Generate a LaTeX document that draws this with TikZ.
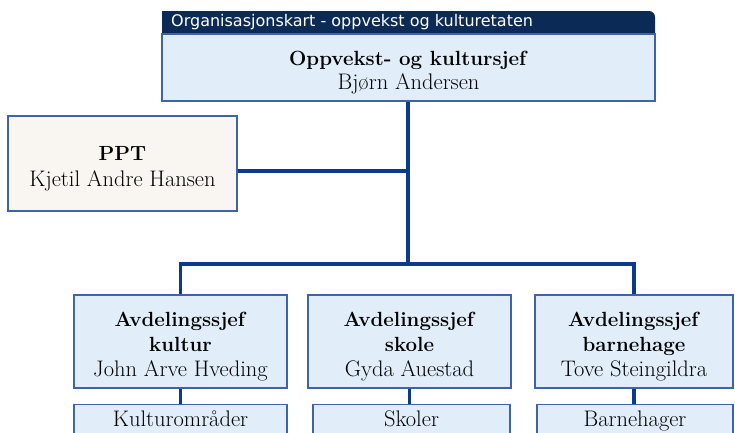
\documentclass[tikz,border=0pt]{standalone}
\usepackage{fontspec}
\usepackage{tikz}
\usetikzlibrary{positioning}
\newfontfamily\headfont{DejaVu Sans}
\definecolor{orgnavy}{HTML}{0B2A55}
\definecolor{orgedge}{HTML}{3F63A8}
\definecolor{orgline}{HTML}{0A3A8C}
\definecolor{orglight}{HTML}{E1EEF9}
\definecolor{orgbeige}{HTML}{F9F6F1}
\newcommand{\who}[1]{{\fontsize{22.5}{25}\selectfont #1}}
\newcommand{\pad}{\rule{0pt}{24pt}}

\begin{document}
\begin{tikzpicture}[
    x=1pt, y=-1pt,
    boss/.style={rectangle, draw=orgedge, fill=orglight, line width=1.2pt, minimum width=493pt, minimum height=67pt, align=center, font=\fontsize{20.5}{24}\selectfont},
    staff/.style={rectangle, draw=orgedge, fill=orgbeige, line width=1.2pt, minimum width=229pt, minimum height=95pt, align=center, font=\fontsize{20.5}{26}\selectfont},
    unit/.style={rectangle, draw=orgedge, fill=orglight, line width=1.2pt, minimum height=93pt, inner sep=0pt, align=center, font=\fontsize{20.5}{25}\selectfont},
    field/.style={rectangle, draw=orgedge, fill=orglight, line width=1.2pt, anchor=north, inner xsep=0pt, inner ysep=7pt, text height=15pt, text depth=28pt},
    link/.style={draw=orgline, line width=3.5pt}
]
\path[use as bounding box, clip] (0,0) rectangle (735,432);

% Header
\fill[orgnavy] (162,34) -- (162,11) [rounded corners=6pt] -- (655,11) [sharp corners] -- (655,34) -- cycle;
\node[anchor=west, inner sep=0pt, text=white, font=\headfont\fontsize{16}{18}\selectfont] (header) at (171,22.5) {Organisasjonskart - oppvekst og kulturetaten};

% Nodes
\node[boss] (sjef) at (408.5,67.5) {\pad\textbf{Oppvekst- og kultursjef}\\\who{Bjørn Andersen}};
\node[staff] (ppt) at (122.5,163.5) {\pad\textbf{PPT}\\\who{Kjetil Andre Hansen}};

\node[unit, minimum width=213pt] (kultur) at (180.5,341.5) {\pad\textbf{Avdelingssjef}\\\textbf{kultur}\\\who{John Arve Hveding}};
\node[unit, minimum width=203pt] (skole) at (409.5,341.5) {\pad\textbf{Avdelingssjef}\\\textbf{skole}\\\who{Gyda Auestad}};
\node[unit, minimum width=198pt] (barnehage) at (634,341.5) {\pad\textbf{Avdelingssjef}\\\textbf{barnehage}\\\who{Tove Steingildra}};

\node[field, minimum width=213pt, below=15pt of kultur] (omraader) {\who{Kulturområder}};
\node[field, minimum width=197pt, below=15pt of skole, xshift=2pt] (skoler) {\who{Skoler}};
\node[field, minimum width=196pt, below=15pt of barnehage, xshift=1pt] (barnehager) {\who{Barnehager}};

\coordinate (bar) at (408,264);

% Arrows
\draw[link] (sjef.south -| bar) -- (bar);
\draw[link] ([yshift=-7.5pt]ppt.east) -- ([yshift=-7.5pt]ppt.east -| bar);
\draw[link] (kultur.north) |- (bar) -| (barnehage.north);
\draw[link] (kultur.south) -- (omraader.north -| kultur.south);
\draw[link] (skole.south) -- (skoler.north -| skole.south);
\draw[link] (barnehage.south) -- (barnehager.north -| barnehage.south);

\end{tikzpicture}
\end{document}
